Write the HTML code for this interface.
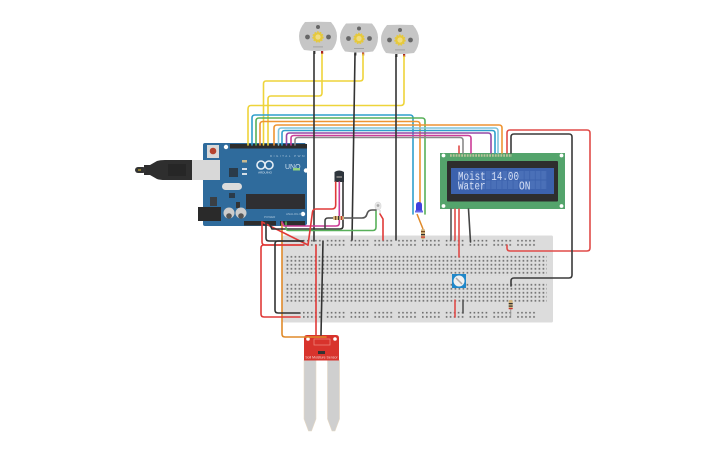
<!DOCTYPE html>
<html><head><meta charset="utf-8"><style>
html,body{margin:0;padding:0;background:#fff}
svg{display:block;filter:blur(.3px)}
.w{fill:none;stroke-width:1.6;stroke-linejoin:round;stroke-linecap:round}
</style></head><body>
<svg width="725" height="453" viewBox="0 0 725 453" xmlns="http://www.w3.org/2000/svg">
<defs>
<pattern id="main" x="285.900" y="255.700" width="4" height="4" patternUnits="userSpaceOnUse"><rect x="0.700" y="0.300" width="1.600" height="1.600" fill="#666"/></pattern>
<pattern id="rail" x="303" y="239.700" width="23.800" height="4.200" patternUnits="userSpaceOnUse">
<g fill="#666"><rect x="0" y="0.200" width="1.600" height="1.600"/><rect x="4" y="0.200" width="1.600" height="1.600"/><rect x="8" y="0.200" width="1.600" height="1.600"/><rect x="12" y="0.200" width="1.600" height="1.600"/><rect x="16" y="0.200" width="1.600" height="1.600"/></g></pattern>
<pattern id="rail2" x="303" y="311.700" width="23.800" height="4.200" patternUnits="userSpaceOnUse">
<g fill="#666"><rect x="0" y="0.200" width="1.600" height="1.600"/><rect x="4" y="0.200" width="1.600" height="1.600"/><rect x="8" y="0.200" width="1.600" height="1.600"/><rect x="12" y="0.200" width="1.600" height="1.600"/><rect x="16" y="0.200" width="1.600" height="1.600"/></g></pattern>
<pattern id="cells" x="458" y="171" width="5.550" height="9.500" patternUnits="userSpaceOnUse"><rect x="0" y="0" width="4.700" height="8.500" fill="#4a70b8"/></pattern>
<g id="motor">
<path d="M-13,-15 Q0,-15.500 13,-15 Q19,-8 19,-1 Q19,7 14,13 Q0,15 -14,13 Q-19,7 -19,-1 Q-19,-8 -13,-15Z" fill="#c6c6c6"/>
<circle cx="-10.500" cy="0" r="2.400" fill="#666"/><circle cx="10.500" cy="0" r="2.400" fill="#666"/><circle cx="0" cy="-10" r="2" fill="#666"/>
<circle cx="0" cy="0" r="4.800" fill="#e6c93c" stroke="#e6c93c" stroke-width="1.800" stroke-dasharray="1.500 1.200"/><circle cx="0" cy="0" r="2.600" fill="#f0dc82"/>
<rect x="-5" y="9.500" width="10" height=".8" fill="#999"/>
<rect x="-4.800" y="14" width="2.200" height="3" fill="#333"/><rect x="3" y="14" width="2.200" height="3" fill="#a22"/>
</g>
</defs>
<rect width="725" height="453" fill="#fff"/>

<!-- Breadboard -->
<rect x="282.500" y="235.500" width="270.500" height="87" rx="1.500" fill="#dcdcdc"/>
<rect x="286" y="255.700" width="261" height="20" fill="url(#main)"/>
<rect x="286" y="283.500" width="261" height="20" fill="url(#main)"/>
<rect x="303" y="239.700" width="233" height="8" fill="url(#rail)"/>
<rect x="303" y="311.700" width="233" height="8" fill="url(#rail2)"/>

<!-- Moisture sensor -->
<path d="M304,360 H316 V419 L311.500,431 H308.500 L304,419Z" fill="#cfcfcf" stroke="#e6d9c4" stroke-width=".6"/>
<path d="M327.500,360 H339.500 V419 L335,431 H332 L327.500,419Z" fill="#cfcfcf" stroke="#e6d9c4" stroke-width=".6"/>
<path d="M307,335 H336 Q339,335 339,338 V360.500 H304 V338 Q304,335 307,335Z" fill="#d8332c"/>
<rect x="314" y="339" width="16" height="6" fill="none" stroke="#f08a80" stroke-width=".7"/>
<rect x="318" y="351" width="7" height="3" fill="#333"/>
<text x="321.500" y="358.500" font-family="Liberation Sans, sans-serif" font-size="3.500" fill="#f6d6d2" text-anchor="middle">Soil Moisture Sensor</text>
<circle cx="308" cy="339" r="1.800" fill="#fff"/><circle cx="335" cy="339" r="1.800" fill="#fff"/>

<!-- Arduino -->
<path d="M205,143 H305 L307,146 V224 L305,226 H205 Q203,226 203,224 V145 Q203,143 205,143Z" fill="#2f6b9c"/>
<rect x="230" y="144" width="77" height="4.500" fill="#2d2d2d"/>
<rect x="244" y="221" width="32" height="4.500" fill="#2d2d2d"/>
<rect x="280" y="221" width="25" height="4.500" fill="#2d2d2d"/>
<rect x="207" y="145" width="12" height="13" fill="#d8d8d8"/><circle cx="213" cy="151" r="3.300" fill="#b5432f"/>
<circle cx="226" cy="147" r="2.200" fill="#fff"/><circle cx="306" cy="170.500" r="2.200" fill="#fff"/><circle cx="303" cy="214" r="2.200" fill="#fff"/>
<rect x="229" y="168" width="9" height="9" fill="#2a3b4a"/>
<rect x="222" y="183" width="20" height="7" rx="3.500" fill="#dcdcdc"/>
<rect x="229" y="193" width="6" height="5" fill="#2a3b4a"/>
<rect x="210" y="197" width="7" height="9" fill="#3a3f44"/>
<rect x="236" y="202" width="4" height="6" fill="#333"/>
<rect x="246" y="194" width="59" height="15" fill="#2f2f32"/>
<rect x="198" y="207" width="23" height="14" fill="#2a2a2a"/>
<circle cx="229" cy="213" r="5.500" fill="#ccc"/><circle cx="241" cy="213" r="5.500" fill="#ccc"/>
<circle cx="229" cy="216" r="2.800" fill="#555"/><circle cx="241" cy="216" r="2.800" fill="#555"/>
<circle cx="261" cy="165" r="4" fill="none" stroke="#e6eef5" stroke-width="1.600"/><circle cx="269" cy="165" r="4" fill="none" stroke="#e6eef5" stroke-width="1.600"/>
<text x="285" y="169" font-family="Liberation Sans, sans-serif" font-size="7" fill="#cfe0ee">UNO</text>
<text x="265" y="173.500" font-family="Liberation Sans, sans-serif" font-size="3" fill="#dbe7f1" text-anchor="middle">ARDUINO</text>
<text x="270" y="157" font-family="Liberation Sans, sans-serif" font-size="3" fill="#a8c4da" letter-spacing="1.500">DIGITAL PWM</text>
<text x="264" y="218" font-family="Liberation Sans, sans-serif" font-size="3" fill="#a8c4da">POWER</text>
<text x="286" y="215" font-family="Liberation Sans, sans-serif" font-size="3" fill="#a8c4da">ANALOG IN</text>
<rect x="293" y="168" width="7" height="2.500" fill="#8fd07f"/>
<rect x="242" y="160" width="5" height="2.500" fill="#c9b98f"/>
<rect x="242" y="168" width="5" height="2" fill="#d5dee6"/><rect x="242" y="173" width="5" height="2" fill="#d5dee6"/>

<!-- USB -->
<rect x="192" y="160" width="28" height="20" fill="#d8d8d8"/>
<path d="M157,161 Q160,160 165,160 H192 V180 H165 Q160,180 157,179 L150,175 H144 V165 H150Z" fill="#2e2e2e"/>
<rect x="135" y="167" width="11" height="6" rx="3" fill="#333"/>
<rect x="138" y="169" width="3" height="2" fill="#8a7a30"/>
<rect x="168" y="164" width="18" height="12" fill="#262626"/>

<!-- LCD -->
<rect x="440" y="153" width="125" height="56" fill="#54a46c"/>
<rect x="447" y="161" width="111" height="40.500" rx="1" fill="#2e2e2e"/>
<rect x="451" y="168" width="103" height="26" fill="#3c62ad"/>
<rect x="458" y="171" width="89" height="19" fill="url(#cells)"/>
<circle cx="443.500" cy="155.500" r="1.900" fill="#fff"/><circle cx="561.500" cy="155.500" r="1.900" fill="#fff"/><circle cx="443.500" cy="206" r="1.900" fill="#fff"/><circle cx="561.500" cy="206" r="1.900" fill="#fff"/>
<path d="M450,155.500 H512" stroke="#b9c49a" stroke-width="2.500" stroke-dasharray="1.800 1" fill="none"/>
<g font-family="Liberation Mono, monospace" font-size="11.500" fill="#d4def4" lengthAdjust="spacingAndGlyphs">
<text x="458" y="180" textLength="61" lengthAdjust="spacingAndGlyphs">Moist 14.00</text>
<text x="458" y="189.500" textLength="27.500" lengthAdjust="spacingAndGlyphs">Water</text>
<text x="519" y="189.500" textLength="11.500" lengthAdjust="spacingAndGlyphs">ON</text>
</g>

<!-- Motors -->
<use href="#motor" x="318" y="37"/>
<use href="#motor" x="359" y="38.500"/>
<use href="#motor" x="400" y="40"/>

<!-- Photoresistor -->
<rect x="375" y="202" width="6" height="8" rx="3" fill="#e8e8e8" stroke="#d0d0d0" stroke-width=".5"/><circle cx="378" cy="205.500" r="1.400" fill="#aaa"/>
<path d="M376,210 V212 M380,210 V214" stroke="#ccc" fill="none"/>

<!-- Temp sensor -->
<path d="M334.500,172 Q339,169 344,172 V182 H334.500Z" fill="#2e353c"/>
<rect x="336.500" y="176" width="5.500" height="2" fill="#777"/>

<!-- Wires top bus -->
<g class="w">
<path stroke="#eed43a" d="M363,54 V78 Q363,81 360,81 H266 Q263.500,81 263.500,84 V145"/>
<path stroke="#eed43a" d="M322,54 V93 Q322,96 319,96 H271 Q268,96 268,99 V145"/>
<path stroke="#eed43a" d="M404,56 V102 Q404,105.500 401,105.500 H251 Q248,105.500 248,109 V145"/>
<path stroke="#2f9fcb" d="M252,145 V118 Q252,115 255,115 H410 Q413,115 413,118 V214"/>
<path stroke="#58b05a" d="M256,145 V121 Q256,118 259,118 H422 Q425,118 425,121 V214"/>
<path stroke="#ee9433" d="M260,145 V124.500 Q260,121.500 263,121.500 H417 Q420,121.500 420,124.500 V206"/>
<path stroke="#ee9433" d="M274,145 V128 Q274,125 277,125 H499 Q502,125 502,128 V153"/>
<path stroke="#7fc4dd" d="M278.500,145 V131 Q278.500,128 281.500,128 H495 Q498,128 498,131 V153"/>
<path stroke="#2f9fcb" d="M282,145 V133 Q282,130.500 285,130.500 H492 Q495,130.500 495,133 V153"/>
<path stroke="#9448a5" d="M286.500,145 V136 Q286.500,133 289.500,133 H488 Q491,133 491,136 V153"/>
<path stroke="#cc3c97" d="M291,145 V138 Q291,135.500 294,135.500 H468 Q471,135.500 471,138 V153"/>
<path stroke="#8a8a8a" d="M295,145 V140.500 Q295,137.500 298,137.500 H460 Q463,137.500 463,140.500 V153"/>
<path stroke="#e04b48" d="M459,146 V153"/>
<path stroke="#e04b48" d="M507,153 V133 Q507,130 510,130 H587 Q590,130 590,133 V248 Q590,251 587,251 H510 Q507,251 507,248 V245"/>
<path stroke="#3a3a3a" d="M511,153 V137 Q511,134 514,134 H569 Q572,134 572,137 V275 Q572,278 569,278 H514 Q511,278 511,281 V286"/>
</g>

<!-- Motor grounds -->
<g class="w">
<path stroke="#333" d="M314,54 V241"/>
<path stroke="#333" d="M355,54 L352,240"/>
<path stroke="#333" d="M396,56 V240"/>
<path stroke="#555" d="M451,209 V240"/>
<path stroke="#e04b48" d="M455,209 V240"/>
<path stroke="#e04b48" d="M459,209 V257"/>
<path stroke="#444" d="M468.500,209 L470.500,242"/>
<path stroke="#e04b48" d="M455,300 V317"/>
<path stroke="#555" d="M463,300 V313"/>
</g>

<!-- Left wiring -->
<g class="w">
<path stroke="#e08a2a" d="M282,222 V334 Q282,337 285,337 H326"/>
<path stroke="#e03a38" d="M262,222 V242 Q262,245 265,245 H303"/>
<path stroke="#e03a38" d="M262,222 L308,245"/>
<path stroke="#e03a38" d="M303,245 H264 Q261,245 261,248 V314 Q261,317 264,317 H300"/>
<path stroke="#333" d="M266,222 V238 Q266,241 269,241 H303"/>
<path stroke="#333" d="M303,241 H278 Q275,241 275,244 V310 Q275,313 278,313 H300"/>
<path stroke="#333" d="M270,225 L272,229 H340 Q343,229 343,226 V182"/>
<path stroke="#58b05a" d="M286,222 V228 Q286,230.500 289,230.500 H373 Q376,230.500 376,227 V211"/>
<path stroke="#cc3c97" d="M339.300,182 V223 Q339.300,226 336,226 H284 L282,222"/>
<path stroke="#e03a38" d="M335.700,182 V205 Q335.700,209 332,209 H316 Q313,209 312.500,212 L308,245"/>
<path stroke="#e03a38" d="M316,245 V335"/>
<path stroke="#333" d="M323,241 L321,335"/>
<path stroke="#444" d="M325,228 V221 Q325,218 328,218 H334"/>
<path stroke="#555" d="M344,218 H362 Q366,218 367,214 Q368,210 372,210 H376"/>
<path stroke="#e03a38" d="M380,214 L383,219 V240"/>
</g>

<!-- Resistors -->
<rect x="333" y="216" width="11" height="4" rx="1.500" fill="#d2b47c"/>
<rect x="335" y="216" width="1.200" height="4" fill="#7a4a20"/><rect x="338" y="216" width="1.200" height="4" fill="#333"/><rect x="341" y="216" width="1.200" height="4" fill="#c33"/>
<path d="M423,229 V240" stroke="#bbb" stroke-width="1"/>
<rect x="421" y="229" width="4" height="10" rx="1.500" fill="#d2b47c"/>
<rect x="421" y="231" width="4" height="1.200" fill="#7a4a20"/><rect x="421" y="234" width="4" height="1.200" fill="#333"/><rect x="421" y="236.500" width="4" height="1.200" fill="#c33"/>
<path d="M510.700,308 V316" stroke="#999" stroke-width="1"/>
<rect x="508.700" y="300" width="4" height="9.500" rx="1.500" fill="#d2b47c"/>
<rect x="508.700" y="303" width="4" height="1.200" fill="#333"/><rect x="508.700" y="305.500" width="4" height="1.200" fill="#333"/><rect x="508.700" y="308" width="4" height="1.200" fill="#c33"/>

<!-- LED -->
<path d="M417,214 L423,229" stroke="#e08a2a" stroke-width="1.500" fill="none"/>
<path d="M416,205 Q416,202 419,202 Q422,202 422,205 V211 H416Z" fill="#4040dd"/>
<rect x="415" y="210.500" width="8" height="2" fill="#6a6ae8"/>

<!-- Potentiometer -->
<rect x="452" y="274" width="14" height="14" fill="#1f87c9"/>
<circle cx="459" cy="281" r="5.500" fill="#f0f0f0"/>
<path d="M456,278 L462,284" stroke="#aaa" stroke-width="1.500"/>
</svg>
</body></html>
